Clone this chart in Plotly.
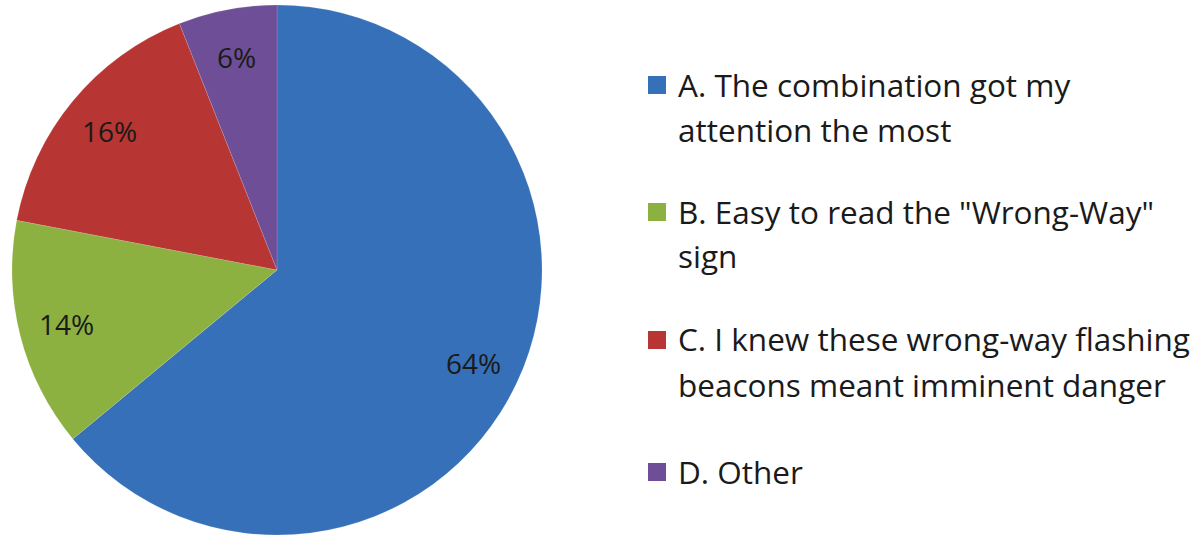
import math
import plotly.graph_objects as go

labels = ["A. The combination got my<br>attention the most",
          "B. Easy to read the \"Wrong-Way\"<br>sign",
          "C. I knew these wrong-way flashing<br>beacons meant imminent danger",
          "D. Other"]
values = [64, 14, 16, 6]
colors = ["#3670B8", "#8DB140", "#B73532", "#6E4F97"]

W, H = 1199, 537
cx, cy, R = 277, 270, 265
FONT = "'Open Sans', Lato, sans-serif"

fig = go.Figure(go.Pie(
    labels=labels, values=values, sort=False, direction="clockwise", rotation=0,
    marker=dict(colors=colors, line=dict(color="rgba(255,255,255,0.25)", width=0.5)),
    textinfo="none", hoverinfo="label+percent", showlegend=False,
    domain=dict(x=[(cx - R) / W, (cx + R) / W], y=[1 - (cy + R) / H, 1 - (cy - R) / H]),
))

annotations = []
shapes = []
total = sum(values)
cum = 0
for v in values:
    mid = (cum + v / 2) / total * 2 * math.pi
    cum += v
    r = 0.82 * R
    px = cx + r * math.sin(mid)
    py = cy - r * math.cos(mid)
    annotations.append(dict(x=px / W, y=1 - py / H, xref="paper", yref="paper",
                            text=f"{round(v / total * 100)}%", showarrow=False,
                            font=dict(family=FONT, size=28, color="#1a1a1a"),
                            xanchor="center", yanchor="middle"))

legend_y = [85, 212, 340, 472]
line_gap = 45
for lab, col, ly in zip(labels, colors, legend_y):
    shapes.append(dict(type="rect", xref="paper", yref="paper",
                       x0=648 / W, x1=666 / W, y0=1 - (ly + 9) / H, y1=1 - (ly - 9) / H,
                       fillcolor=col, line=dict(width=0)))
    for i, part in enumerate(lab.split("<br>")):
        annotations.append(dict(x=676 / W, y=1 - (ly - 1 + i * line_gap) / H, xref="paper", yref="paper",
                                text=part, showarrow=False, align="left",
                                xanchor="left", yanchor="middle",
                                font=dict(family=FONT, size=31.5, color="#1a1a1a")))

fig.update_layout(
    width=W, height=H, margin=dict(l=0, r=0, t=0, b=0),
    paper_bgcolor="white", plot_bgcolor="white",
    annotations=annotations, shapes=shapes,
)
fig.write_html("out.html")
